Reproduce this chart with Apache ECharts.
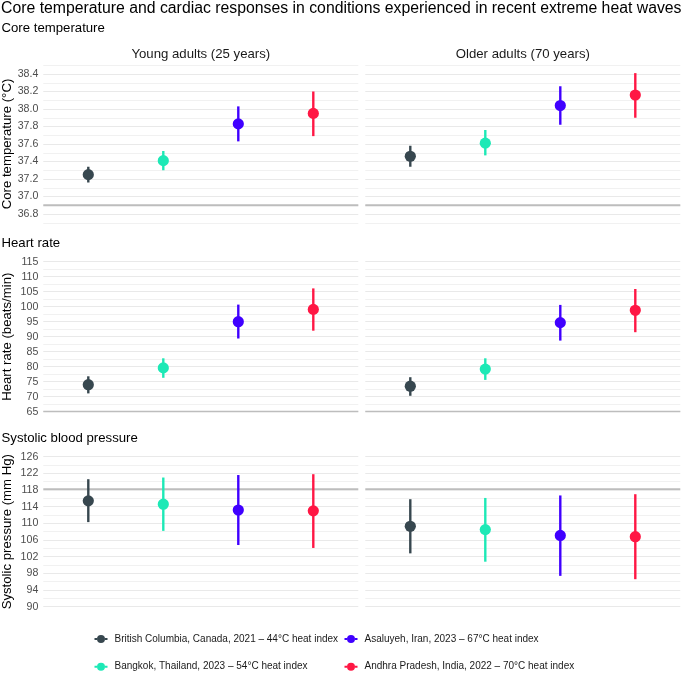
<!DOCTYPE html>
<html>
<head>
<meta charset="utf-8">
<script src="https://cdn.jsdelivr.net/npm/echarts@6/dist/echarts.min.js"></script>
<style>html,body{margin:0;padding:0;background:#fff;}#c{width:685px;height:674px;}</style>
</head>
<body>
<div id="c"></div>
<script>
// ---- data ----
var locations = [
  'British Columbia, Canada, 2021 \u2013 44\u00b0C heat index',
  'Bangkok, Thailand, 2023 \u2013 54\u00b0C heat index',
  'Asaluyeh, Iran, 2023 \u2013 67\u00b0C heat index',
  'Andhra Pradesh, India, 2022 \u2013 70\u00b0C heat index'
];
var colors = ['#37474f', '#1de9b6', '#4000ff', '#ff1744'];
var xPositions = [1, 2, 3, 4];
var groups = ['Young adults (25 years)', 'Older adults (70 years)'];
var rowTitles = ['Core temperature', 'Heart rate', 'Systolic blood pressure'];
var axisTitles = ['Core temperature (\u00b0C)', 'Heart rate (beats/min)', 'Systolic pressure (mm Hg)'];
var mainTitle = 'Core temperature and cardiac responses in conditions experienced in recent extreme heat waves';

var coreYoungMean = [37.25, 37.41, 37.83, 37.95];
var coreYoungLow  = [37.16, 37.30, 37.63, 37.69];
var coreYoungHigh = [37.34, 37.52, 38.03, 38.20];
var coreOldMean   = [37.46, 37.61, 38.04, 38.16];
var coreOldLow    = [37.34, 37.47, 37.82, 37.90];
var coreOldHigh   = [37.58, 37.76, 38.26, 38.41];

var hrYoungMean = [74.0, 79.6, 95.0, 99.1];
var hrYoungLow  = [71.1, 76.3, 89.4, 92.0];
var hrYoungHigh = [76.8, 82.8, 100.7, 106.1];
var hrOldMean   = [73.5, 79.2, 94.7, 98.8];
var hrOldLow    = [70.3, 75.6, 88.7, 91.5];
var hrOldHigh   = [76.5, 82.8, 100.6, 105.9];

var sbpYoungMean = [115.4, 114.6, 113.2, 113.0];
var sbpYoungLow  = [110.3, 108.2, 104.8, 104.1];
var sbpYoungHigh = [120.6, 121.0, 121.6, 121.8];
var sbpOldMean   = [109.3, 108.5, 107.1, 106.8];
var sbpOldLow    = [102.8, 100.8, 97.4, 96.6];
var sbpOldHigh   = [115.8, 116.1, 116.7, 117.0];

var refLines = [36.9, 65, 118.2];

var yMin = [36.7, 65, 90];
var yMax = [38.5, 115, 126];
var yStep = [0.1, 2.5, 2];

// ---- build ----
var panels = [
  [[coreYoungMean, coreYoungLow, coreYoungHigh], [coreOldMean, coreOldLow, coreOldHigh]],
  [[hrYoungMean, hrYoungLow, hrYoungHigh], [hrOldMean, hrOldLow, hrOldHigh]],
  [[sbpYoungMean, sbpYoungLow, sbpYoungHigh], [sbpOldMean, sbpOldLow, sbpOldHigh]]
];
var labelFilters = [
  function (v) { return Math.round(v * 10) % 2 === 0 ? v.toFixed(1) : ''; },
  function (v) { return Math.round(v * 10) % 50 === 0 ? String(Math.round(v)) : ''; },
  function (v) { return Math.round(v - 90) % 4 === 0 ? String(Math.round(v)) : ''; }
];
var lineColorsByRow = [
  ['#f1f1f1', '#e9e9e9'],
  ['#e9e9e9', '#f1f1f1'],
  ['#e9e9e9', '#f1f1f1']
];
var rowTop = [65.25, 261.7, 456.7];
var rowHeight = [157.5, 150, 150];
var colLeft = [43.3, 365.3];
var colWidth = 315;
var FONT = '"Liberation Sans", Arial, Helvetica, sans-serif';

var grids = [], xAxes = [], yAxes = [], series = [];
for (var r = 0; r < 3; r++) {
  for (var c = 0; c < 2; c++) {
    var idx = r * 2 + c;
    grids.push({left: colLeft[c], top: rowTop[r], width: colWidth, height: rowHeight[r], containLabel: false});
    xAxes.push({
      type: 'value', gridIndex: idx, min: 0.4, max: 4.6, show: false,
      splitLine: {show: false}
    });
    yAxes.push({
      type: 'value', gridIndex: idx, min: yMin[r], max: yMax[r], interval: yStep[r],
      axisLine: {show: false}, axisTick: {show: false},
      axisLabel: {
        show: c === 0, formatter: labelFilters[r], color: '#4d4d4d',
        fontSize: 10.6, fontFamily: FONT, margin: 5
      },
      splitLine: {show: true, lineStyle: {color: lineColorsByRow[r], width: 1}}
    });
    series.push({
      type: 'line', name: 'ref', xAxisIndex: idx, yAxisIndex: idx,
      data: [[0.4, refLines[r]], [4.6, refLines[r]]],
      symbol: 'none', silent: true, z: 1,
      lineStyle: {color: '#bdbdbd', width: 1.8}
    });
    var p = panels[r][c];
    for (var i = 0; i < locations.length; i++) {
      series.push({
        type: 'custom', name: locations[i], xAxisIndex: idx, yAxisIndex: idx,
        itemStyle: {color: colors[i]}, z: 3,
        encode: {x: 0, y: [1, 2, 3]},
        data: [[xPositions[i], p[0][i], p[1][i], p[2][i]]],
        renderItem: function (params, api) {
          var x = api.value(0);
          var pm = api.coord([x, api.value(1)]);
          var pl = api.coord([x, api.value(2)]);
          var ph = api.coord([x, api.value(3)]);
          var col = api.visual('color');
          return {
            type: 'group', children: [
              {type: 'line', shape: {x1: pl[0], y1: pl[1], x2: ph[0], y2: ph[1]},
               style: {stroke: col, lineWidth: 2.4}},
              {type: 'circle', shape: {cx: pm[0], cy: pm[1], r: 5.6}, style: {fill: col}}
            ]
          };
        }
      });
    }
  }
}

var texts = [];
function txt(t, x, y, size, color, align, rot) {
  texts.push({
    type: 'text', x: x, y: y, rotation: rot || 0, silent: true,
    style: {text: t, fill: color, font: size + 'px ' + FONT,
            align: align, verticalAlign: 'middle', textAlign: align, textVerticalAlign: 'middle'}
  });
}
txt(mainTitle, 1, 8.5, 15.8, '#000', 'left');
var rowTitleY = [28.3, 243.3, 438.3];
for (var k = 0; k < 3; k++) {
  txt(rowTitles[k], 1.5, rowTitleY[k], 13.2, '#000', 'left');
  txt(axisTitles[k], 7.5, rowTop[k] + rowHeight[k] / 2, 13.2, '#000', 'center', Math.PI / 2);
}
txt(groups[0], colLeft[0] + colWidth / 2, 54, 13.2, '#1a1a1a', 'center');
txt(groups[1], colLeft[1] + colWidth / 2, 54, 13.2, '#1a1a1a', 'center');

var icon = 'path://M0,6L5,6L5,10L0,10Z M21,6L26,6L26,10L21,10Z M5,8A8,8 0 1,1 21,8A8,8 0 1,1 5,8Z';
var legendPos = [[94.5, 632], [94.5, 659.7], [344.5, 632], [344.5, 659.7]];
var legends = [];
for (var j = 0; j < locations.length; j++) {
  legends.push({
    data: [locations[j]], left: legendPos[j][0], top: legendPos[j][1], padding: 0,
    itemWidth: 13, itemHeight: 8, icon: icon, selectedMode: false,
    textStyle: {fontSize: 10, color: '#1a1a1a', fontFamily: FONT, lineHeight: 14, padding: [0, 0, 0, 2]}
  });
}

var chart = echarts.init(document.getElementById('c'), null, {renderer: 'canvas'});
chart.setOption({
  animation: false,
  backgroundColor: '#fff',
  grid: grids, xAxis: xAxes, yAxis: yAxes, series: series,
  legend: legends, graphic: texts
});
</script>
</body>
</html>
